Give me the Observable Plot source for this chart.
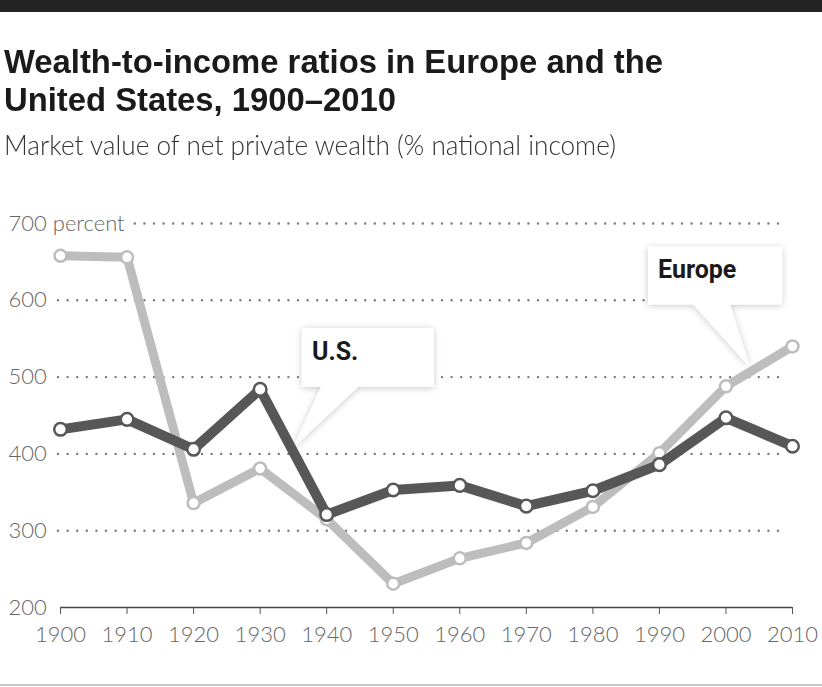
<!DOCTYPE html>
<html><head><meta charset="utf-8">
<script src="https://cdn.jsdelivr.net/npm/d3@7"></script>
<script src="https://cdn.jsdelivr.net/npm/@observablehq/plot@0.6"></script>
<style>
body{margin:0;background:#fff;width:822px;height:687px;overflow:hidden;position:relative;font-family:Lato,"Open Sans",sans-serif}
#bar{position:absolute;left:0;top:0;width:822px;height:12px;background:#232323}
#title{position:absolute;left:4px;top:42px;font-family:"Liberation Sans",Arial,sans-serif;font-weight:700;font-size:34px;line-height:38px;color:#1a1a1a;white-space:nowrap;transform-origin:0 0;display:inline-block;margin:0}
#subtitle{position:absolute;left:4px;top:130px;font-family:Lato,"Open Sans",sans-serif;font-weight:300;font-size:27px;line-height:30px;color:#333;white-space:nowrap;transform-origin:0 0;display:inline-block}
#chart{position:absolute;left:0;top:200px}
#rule{position:absolute;left:0;top:684px;width:822px;height:2px;background:#c8c8c8}
</style>
</head><body>
<div id="bar"></div>
<h1 id="title">Wealth-to-income ratios in Europe and the<br>United States, 1900–2010</h1>
<div id="subtitle">Market value of net private wealth (% national income)</div>
<div id="chart"></div>
<div id="rule"></div>
<script>
const years = [1900,1910,1920,1930,1940,1950,1960,1970,1980,1990,2000,2010];
const europe = [658,656,336,381,315,231,264,284,331,401,488,540];
const us = [432,445,406,484,321,353,359,332,352,386,447,410];
const yTicks = [200,300,400,500,600,700];
const yTickLabels = ["200","300","400","500","600","700 percent"];
const xTicks = years;
const callouts = [
  {label:"U.S.", year:1935, value:407, boxDx:9, boxDy:-120, w:132, h:59, tail0:19, tail1:56},
  {label:"Europe", year:2003.7, value:512, boxDx:-102, boxDy:-121, w:134, h:58, tail0:45, tail1:82}
];

const euData = years.map((y,i)=>({year:y, value:europe[i]}));
const usData = years.map((y,i)=>({year:y, value:us[i]}));
const labelData = yTicks.map((v,i)=>({value:v, text:yTickLabels[i]}));

const EU_COLOR = "#bdbdbd", US_COLOR = "#575757";

function calloutMark(index, scales, values, dimensions) {
  const g = d3.create("svg:g");
  const defs = g.append("defs");
  const f = defs.append("filter").attr("id","shadow").attr("x","-30%").attr("y","-30%").attr("width","160%").attr("height","160%");
  f.append("feDropShadow").attr("dx",0).attr("dy",1).attr("stdDeviation",3.5).attr("flood-color","#000").attr("flood-opacity",0.22);
  for (const c of callouts) {
    const tx = scales.x(c.year), ty = scales.y(c.value);
    const bx = tx + c.boxDx, by = ty + c.boxDy;
    const path = `M${bx},${by} H${bx+c.w} V${by+c.h} H${bx+c.tail1} L${tx},${ty} L${bx+c.tail0},${by+c.h} H${bx} Z`;
    g.append("path").attr("d",path).attr("fill","white").attr("filter","url(#shadow)");
    g.append("text").attr("x",bx+10).attr("y",by+32).attr("text-anchor","start")
      .attr("font-family","Roboto, Lato, sans-serif").attr("font-weight",700).attr("font-size",25)
      .attr("fill","#1a1a1a").text(c.label);
  }
  return g.node();
}

const chart = Plot.plot({
  width: 822, height: 460,
  marginTop: 23, marginBottom: 53, marginLeft: 60, marginRight: 30,
  x: {domain: [1900, 2010], axis: null},
  y: {domain: [200, 700], axis: null},
  style: {fontFamily: "Lato, 'Open Sans', sans-serif", background: "white", overflow: "visible"},
  marks: [
    Plot.ruleY(yTicks.filter(d => d > 200), {x1: 1899.7, x2: 2009.3, stroke: "#777", strokeWidth: 2.4, strokeDasharray: "0 9.6", strokeLinecap: "round"}),
    Plot.text(labelData, {y: "value", text: "text", frameAnchor: "left", dx: -52, textAnchor: "start", fontSize: 22, fontWeight: 300, fill: "white", stroke: "white", strokeWidth: 14}),
    Plot.text(labelData, {y: "value", text: "text", frameAnchor: "left", dx: -52, textAnchor: "start", fontSize: 22, fontWeight: 300, fill: "#666"}),
    Plot.ruleY([200], {x1: 1900, x2: 2010, stroke: "#444", strokeWidth: 1.3}),
    Plot.axisX(xTicks, {tickSize: 7, tickPadding: 12, fontSize: 22, fontWeight: 300, stroke: "#555", fill: "#666", tickFormat: d => String(d), label: null}),
    calloutMark,
    Plot.line(euData, {x: "year", y: "value", stroke: EU_COLOR, strokeWidth: 9, strokeLinejoin: "round"}),
    Plot.dot(euData, {x: "year", y: "value", r: 6, fill: "white", stroke: EU_COLOR, strokeWidth: 2.5}),
    Plot.line(usData, {x: "year", y: "value", stroke: US_COLOR, strokeWidth: 10, strokeLinejoin: "round"}),
    Plot.dot(usData, {x: "year", y: "value", r: 6.3, fill: "white", stroke: US_COLOR, strokeWidth: 2.5})
  ]
});
document.getElementById("chart").appendChild(chart);

function fitTo(id, target) {
  const el = document.getElementById(id);
  const w = el.getBoundingClientRect().width;
  el.style.transform = `scaleX(${target / w})`;
}
fitTo("title", 659);
fitTo("subtitle", 612);
</script>
</body></html>
